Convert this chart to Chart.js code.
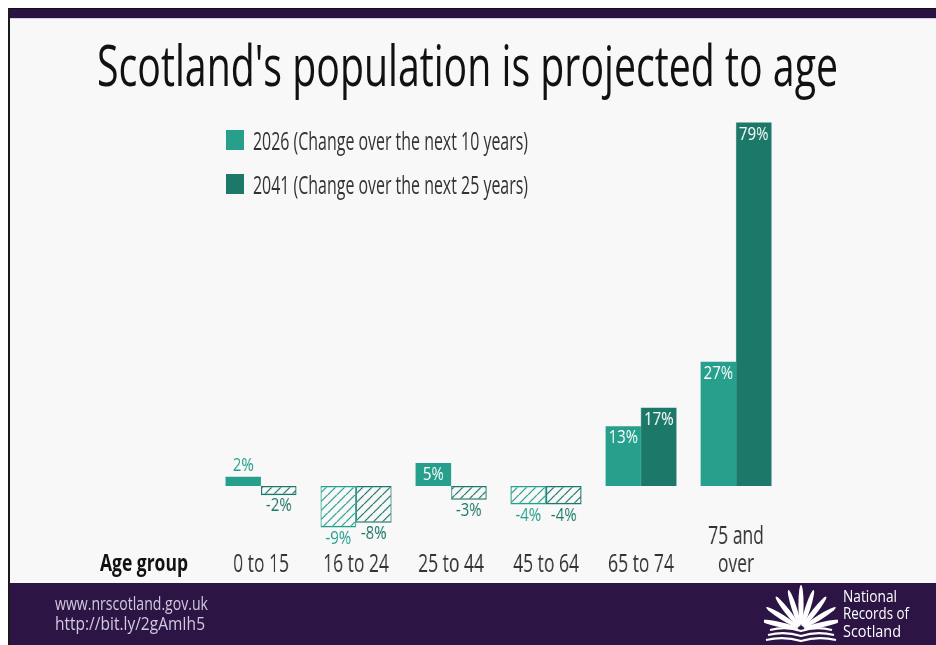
<!DOCTYPE html>
<html>
<head>
<meta charset="utf-8">
<script src="https://cdn.jsdelivr.net/npm/chart.js@4/dist/chart.umd.min.js"></script>
<style>
  html, body { margin: 0; padding: 0; background: #fff; }
  #slide { position: relative; width: 936px; height: 645px; overflow: hidden; background: #fff; font-family: "Open Sans", sans-serif; }
  #paper { position: absolute; left: 9px; top: 18px; right: 0; height: 565px; background: #f8f8f9; }
  #topbar { position: absolute; left: 9px; top: 8px; right: 0; height: 11px; background: #2b1244; border-top: 1px solid #111; border-bottom: 1px solid #dccbe6; box-sizing: border-box; }
  #leftline { position: absolute; left: 8px; top: 8px; width: 2px; bottom: 0; background: #1a1a1a; }
  #footer { position: absolute; left: 10px; top: 583px; right: 0; bottom: 0; background: #2c1545; }
  #chart { position: absolute; left: 0; top: 0; transform-origin: 0 0; }
  .txt { position: absolute; white-space: nowrap; transform-origin: 0 50%; }
  .sq { position: absolute; left: 226px; width: 18px; height: 20px; }
  #logo { position: absolute; left: 764px; top: 585px; }
</style>
</head>
<body>
<div id="slide">
  <div id="paper"></div>
  <div id="topbar"></div>
  <div id="footer"></div>
  <div id="leftline"></div>
  <canvas id="chart" width="1337" height="645"></canvas>

  <div class="txt" data-x="97" data-w="741" data-base="87" data-size="57" style="color:#111">Scotland's population is projected to age</div>

  <div class="sq" id="sq1" style="top:130px"></div>
  <div class="sq" id="sq2" style="top:174px"></div>
  <div class="txt" id="leg1" data-x="253" data-w="275" data-base="150" data-size="25" style="color:#333"></div>
  <div class="txt" id="leg2" data-x="253" data-w="275" data-base="194" data-size="25" style="color:#333"></div>

  <div class="txt" data-x="100" data-w="88" data-base="571" data-size="24" style="color:#111;font-weight:bold">Age group</div>

  <div class="txt" data-x="55" data-w="153" data-base="611" data-size="18" style="color:#d2c9de">www.nrscotland.gov.uk</div>
  <div class="txt" data-x="55" data-w="150" data-base="631" data-size="18" style="color:#d2c9de">http://bit.ly/2gAmIh5</div>

  <div class="txt" data-x="843" data-w="54" data-base="602" data-size="17" style="color:#fff">National</div>
  <div class="txt" data-x="843" data-w="66" data-base="619" data-size="17" style="color:#fff">Records of</div>
  <div class="txt" data-x="843" data-w="58" data-base="637" data-size="17" style="color:#fff">Scotland</div>

  <svg id="logo" width="74" height="58" viewBox="0 0 74 58">
    <g fill="#fff" transform="translate(37,44)">
      <ellipse cx="0" cy="-22" rx="2.6" ry="19" transform="rotate(-78)"/>
      <ellipse cx="0" cy="-22" rx="2.6" ry="19" transform="rotate(-58)"/>
      <ellipse cx="0" cy="-22" rx="2.6" ry="19" transform="rotate(-38)"/>
      <ellipse cx="0" cy="-22" rx="2.6" ry="19" transform="rotate(-18)"/>
      <ellipse cx="0" cy="-24" rx="2.6" ry="20" transform="rotate(0)"/>
      <ellipse cx="0" cy="-22" rx="2.6" ry="19" transform="rotate(18)"/>
      <ellipse cx="0" cy="-22" rx="2.6" ry="19" transform="rotate(38)"/>
      <ellipse cx="0" cy="-22" rx="2.6" ry="19" transform="rotate(58)"/>
      <ellipse cx="0" cy="-22" rx="2.6" ry="19" transform="rotate(78)"/>
    </g>
    <g stroke="#fff" stroke-width="2.2" fill="none">
      <path d="M6 45 Q22 41 37 46 Q52 41 68 45"/>
      <path d="M4 50 Q21 46 37 51 Q53 46 70 50"/>
      <path d="M2 55 Q20 51 37 56 Q54 51 72 55"/>
    </g>
  </svg>
</div>

<script>
// data
const ageGroups = ['0 to 15', '16 to 24', '25 to 44', '45 to 64', '65 to 74', ['75 and', 'over']];
const seriesNames = ['2026 (Change over the next 10 years)', '2041 (Change over the next 25 years)'];
const change2026 = [2, -9, 5, -4, 13, 27];
const change2041 = [-2, -8, -3, -4, 17, 79];

const light = '#26a08c';
const dark = '#1c7868';

// the slide is squeezed sideways, so the canvas is drawn wide and scaled down
const W = 1337;
const sx = 936 / W;
document.getElementById('chart').style.transform = 'scaleX(' + sx + ')';

document.getElementById('sq1').style.background = light;
document.getElementById('sq2').style.background = dark;
document.getElementById('leg1').textContent = seriesNames[0];
document.getElementById('leg2').textContent = seriesNames[1];

// place html text by baseline and squeeze to the measured width
document.querySelectorAll('.txt').forEach(el => {
  const F = parseFloat(el.dataset.size);
  const L = F * 1.4;
  el.style.fontSize = F + 'px';
  el.style.lineHeight = L + 'px';
  el.style.left = el.dataset.x + 'px';
  el.style.top = (parseFloat(el.dataset.base) - L / 2 - 0.388 * F) + 'px';
  const w = el.getBoundingClientRect().width;
  el.style.transform = 'scaleX(' + (parseFloat(el.dataset.w) / w) + ')';
});

// diagonal hatch for the falling groups
function hatch(color) {
  const c = document.createElement('canvas');
  c.width = 13;
  c.height = 9;
  const g = c.getContext('2d');
  g.fillStyle = '#f8f8f9';
  g.fillRect(0, 0, 13, 9);
  g.strokeStyle = color;
  g.lineWidth = 1.4;
  [-13, 0, 13].forEach(o => {
    g.beginPath();
    g.moveTo(o, 9);
    g.lineTo(o + 13, 0);
    g.stroke();
  });
  return g.createPattern(c, 'repeat');
}

const ctx = document.getElementById('chart').getContext('2d');
const hatchLight = hatch(light);
const hatchDark = hatch(dark);

// percentage labels on the bars
const barLabels = {
  id: 'barLabels',
  afterDatasetsDraw(chart) {
    const c = chart.ctx;
    c.save();
    c.font = '18px "Open Sans"';
    c.textAlign = 'center';
    c.textBaseline = 'middle';
    chart.data.datasets.forEach((ds, di) => {
      chart.getDatasetMeta(di).data.forEach((bar, i) => {
        const v = ds.data[i];
        let y;
        if (v >= 5) {
          y = bar.y + 12;
          c.fillStyle = '#fff';
        } else if (v > 0) {
          y = bar.y - 11;
          c.fillStyle = ds.borderColor;
        } else {
          y = bar.y + 11;
          c.fillStyle = ds.borderColor;
        }
        c.save();
        c.translate(bar.x, y);
        c.scale(1.19, 1);
        c.fillText(v + '%', 0, 0);
        c.restore();
      });
    });
    c.restore();
  }
};

new Chart(ctx, {
  type: 'bar',
  data: {
    labels: ageGroups,
    datasets: [
      {
        label: seriesNames[0],
        data: change2026,
        backgroundColor: c => (c.raw < 0 ? hatchLight : light),
        borderColor: light,
        borderWidth: c => (c.raw < 0 ? 1.6 : 0),
        borderSkipped: false,
        barPercentage: 1,
        categoryPercentage: 0.747,
        clip: false,
      },
      {
        label: seriesNames[1],
        data: change2041,
        backgroundColor: c => (c.raw < 0 ? hatchDark : dark),
        borderColor: dark,
        borderWidth: c => (c.raw < 0 ? 1.6 : 0),
        borderSkipped: false,
        barPercentage: 1,
        categoryPercentage: 0.747,
        clip: false,
      },
    ],
  },
  options: {
    responsive: false,
    animation: false,
    layout: {
      padding: { left: 305, right: 217.8, top: 118, bottom: 52.2 },
    },
    plugins: {
      legend: { display: false },
      tooltip: { enabled: false },
    },
    scales: {
      x: {
        grid: { display: false, drawTicks: false },
        border: { display: false },
        ticks: {
          color: '#333',
          padding: 0,
          maxRotation: 0,
          autoSkip: false,
          font: { family: 'Open Sans', size: 25, lineHeight: 1.12 },
          callback: (v, i) => (Array.isArray(ageGroups[i]) ? ageGroups[i] : ['', ageGroups[i]]),
        },
        afterFit: s => { s.height = 70; },
      },
      y: {
        display: false,
        min: -8,
        max: 80,
      },
    },
  },
  plugins: [barLabels],
});
</script>
</body>
</html>
